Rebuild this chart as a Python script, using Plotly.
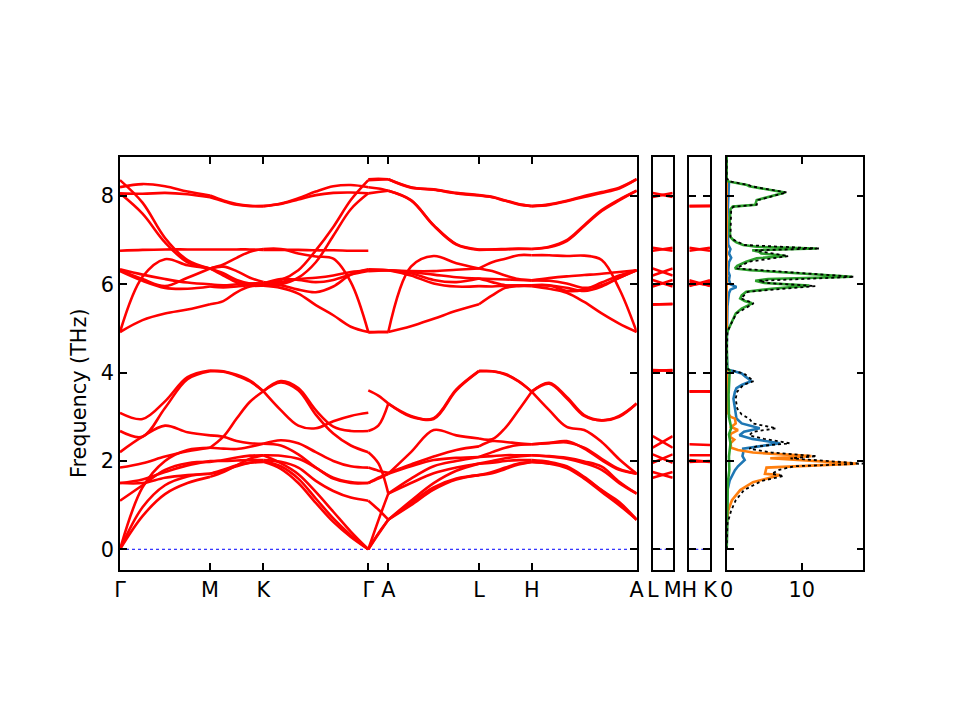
"""
Phonon band structure + partial DOS (hexagonal cell, path G-M-K-G-A-L-H-A | L-M | H-K).
"""

import numpy as np
import plotly.graph_objects as go

# q-path positions of the high-symmetry points and their labels
PATH_X = [0.0, 0.900, 1.433, 2.483, 2.683, 3.590, 4.117, 5.167]
PATH_LABELS = ["Γ", "M", "K", "Γ", "A", "L", "H", "A"]

# bands per segment, frequencies (THz) at evenly spaced knots along the segment
SEG_G_M = [
    [8.36, 7.85, 7.05, 6.55, 6.36],
    [8.06, 7.60, 6.95, 6.50, 6.36],
    [8.20, 8.27, 8.22, 8.10, 8.01],
    [8.06, 8.05, 8.07, 8.04, 7.97],
    [6.76, 6.78, 6.79, 6.79, 6.79],
    [6.34, 6.22, 6.12, 6.04, 6.00],
    [6.30, 6.08, 5.92, 5.90, 5.95],
    [6.32, 6.12, 5.96, 6.15, 6.36],
    [4.92, 6.17, 6.57, 6.43, 6.36],
    [4.92, 5.19, 5.34, 5.43, 5.55],
    [0.00, 0.75, 1.25, 1.50, 1.64],
    [0.00, 0.95, 1.45, 1.65, 1.71],
    [0.00, 1.40, 2.00, 2.25, 2.30],
    [1.10, 1.45, 1.80, 1.95, 1.98],
    [1.50, 1.50, 1.62, 1.68, 1.71],
    [1.50, 1.58, 1.75, 1.90, 2.00],
    [1.85, 1.95, 2.10, 2.22, 2.30],
    [2.20, 2.55, 2.80, 2.65, 2.58],
    [2.68, 2.55, 3.20, 3.85, 4.03],
    [3.09, 2.95, 3.35, 3.90, 4.05],
]
SEG_M_K = [
    [8.01, 7.90, 7.82, 7.78, 7.77],
    [7.97, 7.88, 7.80, 7.77, 7.77],
    [6.79, 6.79, 6.79, 6.79, 6.78],
    [6.36, 6.45, 6.60, 6.74, 6.80],
    [6.36, 6.40, 6.30, 6.15, 6.05],
    [6.36, 6.25, 6.10, 6.02, 6.02],
    [6.36, 6.20, 6.05, 5.98, 5.97],
    [6.00, 5.98, 6.00, 6.02, 6.02],
    [5.95, 5.93, 5.95, 5.98, 5.97],
    [5.55, 5.62, 5.82, 5.95, 5.97],
    [4.05, 4.03, 3.95, 3.82, 3.58],
    [4.03, 4.02, 3.93, 3.80, 3.58],
    [2.30, 2.55, 2.96, 3.34, 3.58],
    [2.58, 2.55, 2.45, 2.40, 2.39],
    [2.30, 2.28, 2.27, 2.32, 2.39],
    [1.98, 2.02, 2.08, 2.12, 2.13],
    [2.00, 2.00, 2.01, 2.02, 2.02],
    [1.71, 1.80, 1.90, 1.96, 1.98],
    [1.71, 1.78, 1.88, 1.96, 2.00],
    [1.64, 1.75, 1.90, 2.05, 2.13],
]
SEG_K_G = [
    [7.77, 7.83, 7.95, 8.10, 8.22, 8.25, 8.20],
    [7.77, 7.82, 7.92, 8.02, 8.07, 8.08, 8.06],
    [6.80, 6.80, 6.70, 6.63, 6.58, 6.05, 4.92],
    [6.78, 6.78, 6.78, 6.77, 6.77, 6.76, 6.76],
    [6.02, 6.10, 6.32, 6.77, 7.30, 7.91, 8.36],
    [5.97, 6.00, 6.15, 6.50, 7.10, 7.70, 8.06],
    [6.05, 5.98, 5.88, 5.82, 5.95, 6.22, 6.34],
    [5.97, 6.05, 6.12, 6.15, 6.20, 6.28, 6.32],
    [6.02, 6.12, 6.10, 6.05, 6.10, 6.22, 6.30],
    [5.97, 5.92, 5.79, 5.53, 5.30, 5.04, 4.92],
    [3.58, 3.15, 2.80, 2.74, 2.90, 3.02, 3.09],
    [3.58, 3.81, 3.65, 3.15, 2.78, 2.68, 2.68],
    [3.58, 3.78, 3.60, 3.05, 2.62, 2.35, 2.20],
    [2.39, 2.47, 2.40, 2.20, 2.00, 1.88, 1.85],
    [2.39, 2.35, 2.15, 1.85, 1.62, 1.52, 1.50],
    [2.13, 2.12, 2.05, 1.85, 1.60, 1.50, 1.50],
    [2.02, 1.98, 1.85, 1.55, 1.32, 1.17, 1.10],
    [2.13, 1.95, 1.70, 1.30, 0.85, 0.40, 0.00],
    [2.00, 1.88, 1.60, 1.15, 0.70, 0.32, 0.00],
    [1.98, 1.82, 1.50, 1.05, 0.62, 0.28, 0.00],
]
SEG_G_A = [
    [8.38, 8.39, 8.38],
    [8.36, 8.37, 8.38],
    [8.20, 8.17, 8.12],
    [8.06, 8.09, 8.12],
    [6.34, 6.33, 6.32],
    [6.33, 6.33, 6.32],
    [6.31, 6.32, 6.32],
    [6.30, 6.31, 6.32],
    [4.92, 4.92, 4.92],
    [4.91, 4.92, 4.92],
    [3.60, 3.48, 3.30],
    [2.68, 2.80, 3.30],
    [2.20, 1.95, 1.26],
    [1.85, 1.78, 1.73],
    [1.50, 1.62, 1.71],
    [1.50, 1.60, 1.71],
    [1.10, 0.90, 0.67],
    [0.00, 0.36, 0.67],
    [0.00, 0.34, 0.67],
    [0.00, 0.65, 1.26],
]
SEG_A_L = [
    [8.38, 8.19, 8.15, 8.07, 8.02],
    [8.38, 8.20, 8.14, 8.06, 8.01],
    [8.12, 7.91, 7.34, 6.91, 6.79],
    [8.12, 7.90, 7.33, 6.90, 6.78],
    [4.92, 6.40, 6.64, 6.48, 6.36],
    [6.32, 6.28, 6.22, 6.16, 6.13],
    [6.32, 6.20, 6.02, 5.95, 5.96],
    [6.32, 6.25, 6.10, 6.05, 6.13],
    [6.32, 6.30, 6.30, 6.33, 6.36],
    [4.92, 5.05, 5.22, 5.40, 5.55],
    [3.30, 3.00, 2.97, 3.62, 4.04],
    [3.30, 3.02, 2.95, 3.60, 4.03],
    [1.71, 2.20, 2.70, 2.58, 2.51],
    [1.73, 1.92, 2.10, 2.25, 2.33],
    [1.71, 1.88, 2.02, 2.07, 2.09],
    [1.26, 1.60, 1.88, 2.00, 2.09],
    [1.26, 1.50, 1.72, 1.85, 1.94],
    [0.67, 1.10, 1.50, 1.78, 1.94],
    [0.67, 1.05, 1.40, 1.60, 1.68],
    [0.67, 1.00, 1.35, 1.58, 1.68],
]
SEG_L_H = [
    [8.02, 7.98, 7.90, 7.82, 7.77],
    [8.01, 7.97, 7.89, 7.81, 7.77],
    [6.79, 6.79, 6.80, 6.81, 6.80],
    [6.78, 6.79, 6.79, 6.80, 6.80],
    [6.36, 6.50, 6.58, 6.66, 6.66],
    [6.36, 6.30, 6.20, 6.12, 6.09],
    [6.13, 6.12, 6.11, 6.10, 6.09],
    [6.13, 6.05, 5.98, 5.97, 5.98],
    [5.96, 5.95, 5.97, 5.98, 5.98],
    [5.55, 5.75, 5.92, 5.96, 5.96],
    [4.04, 4.03, 3.97, 3.81, 3.57],
    [4.03, 4.03, 3.96, 3.80, 3.57],
    [2.51, 2.49, 2.75, 3.15, 3.57],
    [2.33, 2.45, 2.43, 2.40, 2.38],
    [2.09, 2.20, 2.30, 2.36, 2.38],
    [2.09, 2.11, 2.13, 2.13, 2.13],
    [1.94, 2.00, 2.06, 2.10, 2.13],
    [1.94, 1.96, 2.00, 2.02, 2.02],
    [1.68, 1.75, 1.85, 1.94, 1.98],
    [1.68, 1.72, 1.82, 1.92, 1.98],
]
SEG_H_A = [
    [7.77, 7.81, 7.89, 8.00, 8.09, 8.19, 8.38],
    [7.77, 7.80, 7.88, 7.98, 8.07, 8.17, 8.38],
    [6.80, 6.85, 7.00, 7.34, 7.68, 7.92, 8.12],
    [6.80, 6.84, 6.98, 7.32, 7.66, 7.90, 8.12],
    [6.66, 6.66, 6.64, 6.65, 6.55, 5.90, 4.92],
    [6.09, 6.14, 6.18, 6.21, 6.24, 6.28, 6.32],
    [6.09, 6.08, 6.02, 5.92, 5.98, 6.15, 6.32],
    [5.98, 5.98, 5.85, 5.88, 6.04, 6.20, 6.32],
    [5.98, 5.97, 5.92, 5.85, 5.95, 6.15, 6.32],
    [5.96, 5.90, 5.81, 5.60, 5.34, 5.11, 4.92],
    [3.57, 3.15, 2.77, 2.70, 2.43, 2.04, 1.71],
    [3.57, 3.77, 3.45, 3.04, 2.92, 3.00, 3.30],
    [3.57, 3.75, 3.42, 3.02, 2.92, 3.02, 3.30],
    [2.38, 2.41, 2.45, 2.28, 2.02, 1.80, 1.71],
    [2.38, 2.40, 2.42, 2.30, 2.05, 1.82, 1.71],
    [2.13, 2.11, 2.07, 1.99, 1.87, 1.53, 1.26],
    [2.13, 2.10, 2.05, 1.95, 1.80, 1.50, 1.26],
    [2.02, 1.98, 1.88, 1.64, 1.34, 1.07, 0.67],
    [1.98, 1.95, 1.86, 1.62, 1.33, 1.03, 0.67],
    [1.98, 1.94, 1.84, 1.60, 1.30, 1.00, 0.67],
]
SEGMENTS = [SEG_G_M, SEG_M_K, SEG_K_G, SEG_G_A, SEG_A_L, SEG_L_H, SEG_H_A]

# separate short paths: frequency at start / end point
LM_BANDS = [
    [8.07, 7.98], [7.98, 8.07], [6.83, 6.76], [6.76, 6.83],
    [6.36, 6.20], [6.20, 6.36], [6.10, 5.95], [5.95, 6.10],
    [5.55, 5.55], [5.54, 5.56], [4.06, 4.04], [4.04, 4.06],
    [2.56, 2.30], [2.30, 2.56], [2.15, 1.96], [1.96, 2.15],
    [1.75, 1.62], [1.62, 1.75],
]
HK_BANDS = [
    [7.77, 7.77], [7.77, 7.78], [6.83, 6.76], [6.76, 6.83],
    [6.09, 5.96], [5.96, 6.09], [6.05, 5.98], [5.98, 6.05],
    [3.57, 3.58], [3.58, 3.57], [2.38, 2.36], [2.13, 2.13],
    [2.02, 1.98], [1.98, 2.00],
]

# projected DOS (states/THz) vs frequency (THz)
BLUE_F = [0.0, 0.8, 1.1, 1.34, 1.56, 1.79, 1.88, 1.95, 2.02, 2.11, 2.19, 2.28, 2.40,
          2.50, 2.58, 2.66, 2.74, 2.85, 2.96, 3.19, 3.41, 3.57, 3.65, 3.72, 3.81, 3.91,
          3.98, 4.03, 4.07, 4.5, 5.0, 5.5, 5.8, 5.88, 5.94, 6.0, 6.1, 6.2, 6.3, 6.5,
          6.6, 6.7, 6.8, 6.9, 7.5, 8.0, 8.3, 8.35, 8.9]
BLUE_V = [0.0, 0.02, 0.05, 0.1, 0.4, 1.1, 1.5, 2.0, 2.4, 2.1, 2.2, 2.2, 7.1,
          3.4, 1.7, 2.3, 4.4, 2.0, 1.3, 1.1, 0.9, 1.1, 1.3, 2.0, 3.3, 2.5,
          2.0, 1.0, 0.1, 0.0, 0.05, 0.1, 0.3, 0.5, 1.3, 0.5, 0.3, 0.4, 0.2, 0.3,
          0.6, 0.3, 0.5, 0.2, 0.1, 0.2, 0.3, 0.0, 0.0]
ORANGE_F = [0.0, 0.6, 0.88, 1.11, 1.34, 1.52, 1.68, 1.71, 1.85, 1.94, 2.06, 2.11, 2.19,
            2.25, 2.30, 2.40, 2.48, 2.55, 2.62, 2.70, 2.77, 2.85, 2.96, 3.0, 3.1, 3.5,
            4.0, 4.1, 8.9]
ORANGE_V = [0.0, 0.02, 0.2, 0.7, 1.8, 3.5, 7.1, 5.1, 5.3, 17.3, 5.8, 11.3, 3.5,
            1.5, 0.6, 0.5, 1.0, 0.4, 0.6, 1.5, 0.6, 1.2, 1.1, 0.5, 0.1, 0.05,
            0.05, 0.0, 0.0]
GREEN_F = [0.0, 1.0, 1.5, 1.8, 2.1, 2.4, 2.6, 2.75, 3.0, 3.5, 3.9, 4.05, 4.1, 4.85,
           4.93, 5.11, 5.34, 5.45, 5.57, 5.62, 5.68, 5.75, 5.83, 5.90, 5.97, 6.03, 6.08,
           6.12, 6.17, 6.32, 6.36, 6.42, 6.51, 6.59, 6.64, 6.70, 6.74, 6.77, 6.81, 6.85,
           6.89, 6.95, 7.0, 7.08, 7.4, 7.7, 7.76, 7.80, 7.91, 8.08, 8.22, 8.25, 8.33,
           8.40, 8.9]
GREEN_V = [0.0, 0.05, 0.15, 0.35, 0.3, 0.5, 0.3, 0.6, 0.3, 0.25, 0.35, 0.4, 0.05, 0.0,
           0.1, 0.6, 1.2, 2.0, 3.4, 2.4, 1.8, 2.0, 2.6, 6.0, 11.0, 5.0, 3.8,
           5.5, 16.7, 3.2, 1.1, 1.4, 2.6, 4.0, 7.9, 4.6, 4.3, 3.4, 12.0, 4.0,
           2.2, 1.3, 0.9, 0.45, 0.4, 0.5, 0.8, 3.8, 4.0, 7.8, 3.0, 2.7, 0.2,
           0.0, 0.0]
TOTAL_F = [0.0, 0.3, 0.58, 0.88, 1.11, 1.34, 1.55, 1.66, 1.71, 1.80, 1.88, 1.94, 2.06,
           2.11, 2.19, 2.28, 2.33, 2.40, 2.50, 2.58, 2.66, 2.74, 2.85, 2.96, 3.05, 3.19,
           3.41, 3.57, 3.72, 3.81, 3.91, 3.98, 4.03, 4.07, 4.2, 4.85, 4.93, 5.11, 5.34,
           5.57, 5.68, 5.83, 5.96, 6.03, 6.08, 6.17, 6.32, 6.36, 6.51, 6.64, 6.74, 6.77,
           6.81, 6.89, 7.0, 7.08, 7.7, 7.76, 7.80, 7.91, 8.08, 8.22, 8.25, 8.33, 8.40, 8.9]
TOTAL_V = [0.0, 0.0, 0.1, 0.6, 1.2, 2.3, 4.7, 7.6, 6.0, 7.0, 9.0, 18.2, 8.5,
           12.0, 6.0, 3.0, 4.0, 8.4, 5.0, 3.0, 3.5, 6.6, 3.5, 3.0, 2.0, 1.4,
           1.2, 1.4, 2.2, 3.6, 2.8, 2.3, 1.2, 0.2, 0.0, 0.0, 0.1, 0.6, 1.3,
           3.6, 1.9, 2.8, 11.8, 5.5, 4.3, 17.0, 3.5, 1.3, 2.9, 8.2, 4.7, 3.8,
           12.4, 2.4, 1.0, 0.5, 0.6, 0.9, 4.0, 4.2, 8.0, 3.3, 2.9, 0.4, 0.0, 0.0]

Y_RANGE = [-0.469, 8.89]
FONT = dict(family="DejaVu Sans", size=20.8, color="black")


def band_xy(bands, x0, x1):
    xs, ys = [], []
    for band in bands:
        xs += list(np.linspace(x0, x1, len(band))) + [None]
        ys += list(band) + [None]
    return xs, ys


fig = go.Figure()

red = dict(color="#ff0000", width=2.6)
zero = dict(color="#0000ff", width=1, dash="dot")

# main path
fig.add_trace(go.Scatter(x=[PATH_X[0], PATH_X[-1]], y=[0, 0], mode="lines", line=zero,
                         xaxis="x", yaxis="y"))
for i, bands in enumerate(SEGMENTS):
    xs, ys = band_xy(bands, PATH_X[i], PATH_X[i + 1])
    fig.add_trace(go.Scatter(x=xs, y=ys, mode="lines", line=dict(shape="spline", **red),
                             xaxis="x", yaxis="y"))

# L-M and H-K
for bands, xa, ya in [(LM_BANDS, "x2", "y2"), (HK_BANDS, "x3", "y3")]:
    fig.add_trace(go.Scatter(x=[0, 1], y=[0, 0], mode="lines", line=zero, xaxis=xa, yaxis=ya))
    xs, ys = band_xy(bands, 0, 1)
    fig.add_trace(go.Scatter(x=xs, y=ys, mode="lines", line=red, xaxis=xa, yaxis=ya))

# DOS
for f, v, c in [(BLUE_F, BLUE_V, "#1f77b4"), (ORANGE_F, ORANGE_V, "#ff7f0e"),
                (GREEN_F, GREEN_V, "#2ca02c")]:
    fig.add_trace(go.Scatter(x=v, y=f, mode="lines", line=dict(color=c, width=2.6),
                             xaxis="x4", yaxis="y4"))
fig.add_trace(go.Scatter(x=TOTAL_V, y=TOTAL_F, mode="lines",
                         line=dict(color="black", width=1.8, dash="dot"),
                         xaxis="x4", yaxis="y4"))

ax = dict(showline=True, linecolor="black", linewidth=1.6, mirror="ticks",
          ticks="inside", ticklen=7, tickwidth=1.6, tickcolor="black",
          showgrid=False, zeroline=False, tickfont=FONT, automargin=False)
ydom = [1 - 570 / 720, 1 - 156.7 / 720]

fig.update_layout(
    width=960, height=720, autosize=False, margin=dict(l=0, r=0, t=0, b=0, pad=0),
    paper_bgcolor="white", plot_bgcolor="white", showlegend=False, hovermode=False,
    xaxis=dict(ax, domain=[120 / 960, 636.7 / 960], range=[PATH_X[0], PATH_X[-1]],
               tickvals=PATH_X, ticktext=PATH_LABELS, anchor="y"),
    yaxis=dict(ax, domain=ydom, range=Y_RANGE, tickvals=[0, 2, 4, 6, 8], anchor="x"),
    xaxis2=dict(ax, domain=[652.7 / 960, 672.7 / 960], range=[0, 1],
                tickvals=[0, 1], ticktext=["L", "M"], anchor="y2"),
    yaxis2=dict(ax, domain=ydom, range=Y_RANGE, tickvals=[0, 2, 4, 6, 8],
                showticklabels=False, anchor="x2"),
    xaxis3=dict(ax, domain=[689.3 / 960, 710 / 960], range=[0, 1],
                tickvals=[0, 1], ticktext=["H", "K"], anchor="y3"),
    yaxis3=dict(ax, domain=ydom, range=Y_RANGE, tickvals=[0, 2, 4, 6, 8],
                showticklabels=False, anchor="x3"),
    xaxis4=dict(ax, domain=[726.7 / 960, 863.3 / 960], range=[0, 18.2],
                tickvals=[0, 10], anchor="y4"),
    yaxis4=dict(ax, domain=ydom, range=Y_RANGE, tickvals=[0, 2, 4, 6, 8],
                showticklabels=False, anchor="x4"),
    annotations=[dict(text="Frequency (THz)", xref="paper", yref="paper",
                      x=79 / 960, y=1 - 393 / 720, xanchor="center", yanchor="middle",
                      textangle=-90, showarrow=False, font=FONT)],
)

# the page's default 8px body margin would shift the 960x720 figure
fig.write_html("out.html", config={"displayModeBar": False},
               post_script="document.body.style.margin = '0px';")
